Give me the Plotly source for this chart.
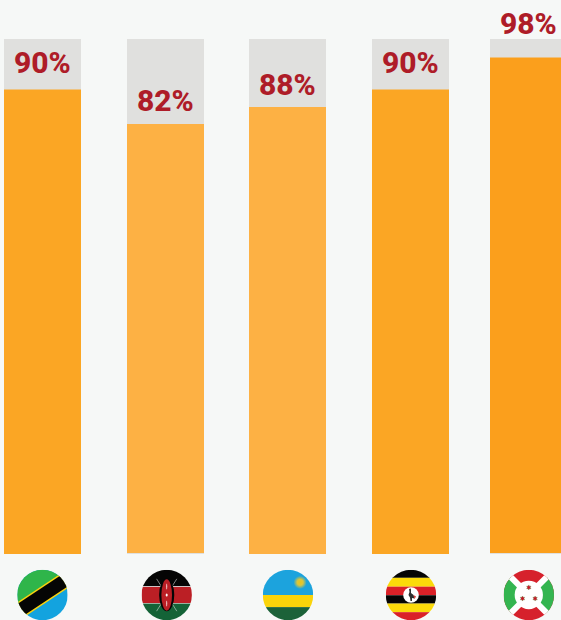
import base64
import math
import plotly.graph_objects as go

W, H = 561, 620

countries = ["Tanzania", "Kenya", "Rwanda", "Uganda", "Burundi"]
labels = ["90%", "82%", "88%", "90%", "98%"]
bar_values = [90.2, 83.3, 86.8, 90.2, 96.2]
full_values = [100, 100, 100, 100, 100]

# layout constants (pixels in the 561x620 page)
bar_centers = [42.5, 165.5, 287.5, 410.5, 528.5]
bar_width = 77
base_px = [554, 553, 554, 554, 553]
top_px = 39
zero_px = 554
px_per_unit = 5.15
bar_colors = ["#FBA624", "#FDB144", "#FDB144", "#FBA624", "#FB9F1C"]
label_px = [63, 101, 84, 63, 23.5]
label_x = [42.5, 165, 287.5, 410, 528.5]
flag_x = [42.5, 166.7, 288, 411, 528.8]
flag_y = 595
flag_d = 50.5


def svg(body, defs=""):
    s = (
        '<svg xmlns="http://www.w3.org/2000/svg" width="400" height="400" viewBox="0 0 100 100">'
        '<defs><clipPath id="c"><circle cx="50" cy="50" r="50"/></clipPath>' + defs + "</defs>"
        '<g clip-path="url(#c)">' + body + "</g></svg>"
    )
    return "data:image/svg+xml;base64," + base64.b64encode(s.encode()).decode()


def rect(y, h, fill):
    return f'<rect x="0" y="{y}" width="100" height="{h}" fill="{fill}"/>'


def star(cx, cy, r, fill, stroke):
    pts = []
    for i in range(12):
        rad = r if i % 2 == 0 else r * 0.55
        a = math.pi / 6 * i - math.pi / 2
        pts.append(f"{cx + rad * math.cos(a):.2f},{cy + rad * math.sin(a):.2f}")
    return f'<polygon points="{" ".join(pts)}" fill="{fill}" stroke="{stroke}" stroke-width="0.8"/>'


tanzania = svg(
    '<rect x="0" y="0" width="100" height="100" fill="#13A3DF"/>'
    '<g transform="rotate(-33.5 50 50)">'
    '<rect x="-40" y="-40" width="180" height="80" fill="#2FB54A"/>'
    '<rect x="-40" y="34.5" width="180" height="32" fill="#FAD20F"/>'
    '<rect x="-40" y="37.5" width="180" height="26" fill="#050505"/></g>'
)

kenya = svg(
    rect(0, 33, "#050505") + rect(33, 34, "#FFFFFF") + rect(34, 32, "#BB1F25") + rect(67, 33, "#146337")
    + '<g stroke="#E4E4E4" stroke-width="1.1">'
    '<line x1="30" y1="82" x2="70" y2="18"/><line x1="70" y1="82" x2="30" y2="18"/></g>'
    '<ellipse cx="50" cy="50" rx="15" ry="32" fill="#050505"/>'
    '<ellipse cx="50" cy="50" rx="10.5" ry="31" fill="#BB1F25"/>'
    '<ellipse cx="50" cy="50" rx="2" ry="3" fill="#FFFFFF"/>'
    '<ellipse cx="50" cy="33" rx="1" ry="6" fill="#F2D0D0"/>'
    '<ellipse cx="50" cy="67" rx="1" ry="6" fill="#F2D0D0"/>'
)

rwanda = svg(
    rect(0, 50, "#1CA3DD") + rect(50, 24, "#FAD40A") + rect(74, 26, "#1C6239")
    + '<circle cx="74" cy="25" r="13" fill="url(#s)"/>',
    '<radialGradient id="s"><stop offset="0%" stop-color="#E9C41C"/>'
    '<stop offset="45%" stop-color="#D9C63C"/>'
    '<stop offset="100%" stop-color="#1CA3DD"/></radialGradient>',
)

uganda = svg(
    rect(0, 16, "#050505") + rect(16, 17.5, "#FBDA0A") + rect(33.5, 17, "#DA2128")
    + rect(50.5, 16.5, "#050505") + rect(67, 17, "#FBDA0A") + rect(84, 16, "#DA2128")
    + '<circle cx="50" cy="50" r="15.5" fill="#FFFFFF"/>'
    '<path d="M46 38 L50 37 L50 46 L55 50 L57 57 L52 56 L52 62 L49 62 L48 55 L45 50 L47 44Z" fill="#303030"/>'
    '<path d="M55 50 L60 53 L57 58Z" fill="#D8403C"/>'
)

burundi = svg(
    '<rect x="0" y="0" width="100" height="100" fill="#D6212C"/>'
    '<polygon points="0,0 50,50 0,100" fill="#34B550"/>'
    '<polygon points="100,0 50,50 100,100" fill="#34B550"/>'
    '<g stroke="#FFFFFF" stroke-width="12">'
    '<line x1="0" y1="0" x2="100" y2="100"/><line x1="100" y1="0" x2="0" y2="100"/></g>'
    '<circle cx="50" cy="50" r="28" fill="#FFFFFF"/>'
    + star(50, 35, 5, "#CE1126", "#6E8B4A")
    + star(37.5, 57, 5, "#CE1126", "#6E8B4A")
    + star(62.5, 57, 5, "#CE1126", "#6E8B4A")
)

flags = [tanzania, kenya, rwanda, uganda, burundi]

fig = go.Figure()
fig.add_bar(
    x=bar_centers,
    y=full_values,
    width=bar_width,
    marker=dict(color="#E0E0DE", line_width=0),
    name="Total",
    hoverinfo="skip",
)
fig.add_bar(
    x=bar_centers,
    y=bar_values,
    width=bar_width,
    base=[(zero_px - b) / px_per_unit for b in base_px],
    marker=dict(color=bar_colors, line_width=0),
    name="Share",
    customdata=countries,
)

annotations = [
    dict(
        x=x,
        xref="x",
        y=1 - py / H,
        yref="paper",
        text=t,
        showarrow=False,
        xanchor="center",
        yanchor="middle",
        font=dict(family="Roboto", size=30, color="#AE1C28", weight=800),
    )
    for x, py, t in zip(label_x, label_px, labels)
]

images = [
    dict(
        source=src,
        xref="x",
        yref="paper",
        x=x,
        y=1 - flag_y / H,
        sizex=flag_d,
        sizey=flag_d / H,
        xanchor="center",
        yanchor="middle",
        sizing="stretch",
        layer="above",
    )
    for src, x in zip(flags, flag_x)
]

fig.update_layout(
    width=W,
    height=H,
    autosize=False,
    margin=dict(l=0, r=0, t=0, b=0),
    paper_bgcolor="#F6F8F7",
    plot_bgcolor="#F6F8F7",
    barmode="overlay",
    showlegend=False,
    annotations=annotations,
    images=images,
    xaxis=dict(range=[0, W], visible=False, fixedrange=True),
    yaxis=dict(
        range=[(zero_px - H) / px_per_unit, zero_px / px_per_unit],
        visible=False,
        fixedrange=True,
    ),
)

fig.write_html(
    "out.html",
    config={"displayModeBar": False},
    post_script="document.documentElement.style.background='#F6F8F7';document.body.style.margin='0';document.body.style.overflow='hidden';",
)
